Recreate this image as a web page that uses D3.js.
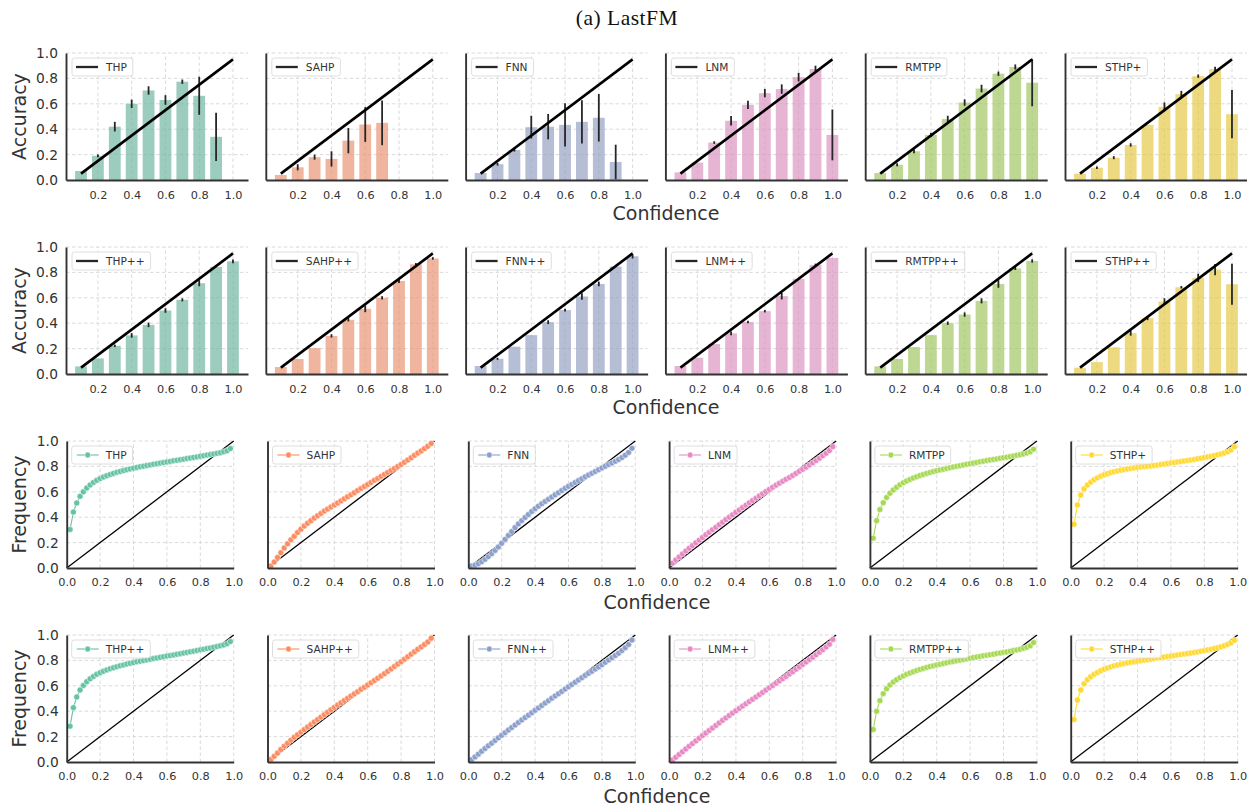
<!DOCTYPE html>
<html>
<head>
<meta charset="utf-8">
<script src="https://cdn.jsdelivr.net/npm/d3@7"></script>
<style>
  body { margin: 0; background: #fff; }
  svg { display: block; font-family: "DejaVu Sans", sans-serif; }
</style>
</head>
<body>
<div id="chart"></div>
<script>
const COLORS = ["#66c2a5", "#fc8d62", "#8da0cb", "#e78ac3", "#a6d854", "#ffd92f"];
const modelsBase = ["THP", "SAHP", "FNN", "LNM", "RMTPP", "STHP+"];
const modelsPlus = ["THP++", "SAHP++", "FNN++", "LNM++", "RMTPP++", "STHP++"];

const binCenters = [0.1, 0.2, 0.3, 0.4, 0.5, 0.6, 0.7, 0.8, 0.9, 1.0];
const barTicks = [0.2, 0.4, 0.6, 0.8, 1.0];
const curveTicks = [0.0, 0.2, 0.4, 0.6, 0.8, 1.0];
const yTicks = [0.0, 0.2, 0.4, 0.6, 0.8, 1.0];

// accuracy per confidence bin (row 1: base models)
const accTHP   = [0.071, 0.19, 0.42, 0.60, 0.705, 0.63, 0.774, 0.663, 0.34, 0];
const errTHP   = [0, 0.01, 0.038, 0.033, 0.033, 0.038, 0.017, 0.15, 0.19, 0];
const accSAHP  = [0.04, 0.10, 0.18, 0.166, 0.31, 0.437, 0.45, 0, 0, 0];
const errSAHP  = [0, 0.024, 0.02, 0.06, 0.1, 0.137, 0.176, 0, 0, 0];
const accFNN   = [0.055, 0.124, 0.237, 0.416, 0.42, 0.434, 0.458, 0.49, 0.142, 0];
const errFNN   = [0, 0.01, 0.013, 0.09, 0.1, 0.17, 0.17, 0.187, 0.136, 0];
const accLNM   = [0.06, 0.137, 0.295, 0.466, 0.592, 0.684, 0.716, 0.81, 0.874, 0.355];
const errLNM   = [0, 0, 0.01, 0.037, 0.033, 0.033, 0.037, 0.034, 0.026, 0.2];
const accRMTPP = [0.055, 0.12, 0.226, 0.355, 0.48, 0.61, 0.72, 0.837, 0.89, 0.766];
const errRMTPP = [0, 0.012, 0.015, 0.017, 0.026, 0.025, 0.03, 0.017, 0.02, 0.185];
const accSTHP  = [0.05, 0.097, 0.176, 0.276, 0.434, 0.576, 0.676, 0.818, 0.874, 0.518];
const errSTHP  = [0, 0.01, 0.012, 0.013, 0, 0.035, 0.026, 0.013, 0.017, 0.19];

// row 2: "++" models
const accTHPpp   = [0.06, 0.123, 0.222, 0.304, 0.387, 0.5, 0.584, 0.715, 0.843, 0.887];
const errTHPpp   = [0, 0, 0.01, 0.018, 0.018, 0.018, 0.012, 0.024, 0, 0.014];
const accSAHPpp  = [0.055, 0.118, 0.204, 0.30, 0.427, 0.513, 0.60, 0.733, 0.864, 0.91];
const errSAHPpp  = [0, 0, 0, 0.013, 0.013, 0.026, 0.013, 0.017, 0.01, 0.01];
const accFNNpp   = [0.063, 0.12, 0.215, 0.306, 0.408, 0.503, 0.61, 0.709, 0.846, 0.927];
const errFNNpp   = [0, 0.008, 0, 0, 0.015, 0.01, 0.026, 0.018, 0, 0.017];
const accLNMpp   = [0.063, 0.128, 0.236, 0.32, 0.41, 0.495, 0.613, 0.749, 0.859, 0.914];
const errLNMpp   = [0, 0, 0, 0.015, 0.01, 0.01, 0.026, 0, 0.01, 0];
const accRMTPPpp = [0.06, 0.118, 0.212, 0.306, 0.40, 0.468, 0.576, 0.709, 0.832, 0.89];
const errRMTPPpp = [0, 0, 0, 0, 0.013, 0.017, 0.02, 0.03, 0.013, 0.013];
const accSTHPpp  = [0.05, 0.094, 0.21, 0.322, 0.44, 0.57, 0.683, 0.757, 0.822, 0.707];
const errSTHPpp  = [0, 0, 0, 0.02, 0.016, 0.026, 0.01, 0.033, 0.045, 0.162];

// rows 3/4: cumulative frequency vs confidence
const confGrid = [0.02, 0.04, 0.06, 0.08, 0.10, 0.12, 0.14, 0.16, 0.18, 0.20,
  0.22, 0.24, 0.26, 0.28, 0.30, 0.32, 0.34, 0.36, 0.38, 0.40,
  0.42, 0.44, 0.46, 0.48, 0.50, 0.52, 0.54, 0.56, 0.58, 0.60,
  0.62, 0.64, 0.66, 0.68, 0.70, 0.72, 0.74, 0.76, 0.78, 0.80,
  0.82, 0.84, 0.86, 0.88, 0.90, 0.92, 0.94, 0.96, 0.98];

const freqTHP = [.303,.440,.512,.564,.600,.630,.654,.674,.690,.704,
  .716,.727,.736,.745,.753,.760,.767,.774,.780,.786,
  .792,.797,.802,.807,.812,.817,.821,.826,.830,.835,
  .839,.844,.848,.853,.857,.862,.866,.871,.875,.880,
  .884,.889,.893,.898,.903,.908,.915,.924,.940];
const freqSAHP = [.016,.047,.083,.120,.157,.190,.222,.250,.280,.305,
  .330,.352,.373,.394,.412,.430,.448,.464,.480,.496,
  .512,.528,.545,.561,.577,.593,.610,.626,.642,.658,
  .674,.690,.705,.721,.737,.752,.768,.784,.800,.815,
  .832,.850,.868,.887,.905,.922,.940,.958,.980];
const freqFNN = [.016,.023,.034,.050,.068,.090,.113,.138,.165,.195,
  .225,.256,.287,.318,.347,.373,.398,.422,.445,.467,
  .487,.506,.524,.542,.559,.576,.593,.610,.627,.643,
  .658,.673,.688,.703,.718,.732,.746,.760,.774,.788,
  .801,.814,.827,.840,.854,.870,.888,.910,.942];
const freqLNM = [.038,.063,.087,.110,.133,.155,.177,.198,.219,.240,
  .261,.281,.301,.321,.341,.361,.381,.400,.419,.438,
  .457,.476,.495,.513,.531,.549,.567,.585,.602,.619,
  .636,.652,.668,.683,.698,.713,.729,.745,.761,.777,
  .794,.811,.828,.846,.864,.883,.903,.925,.955];
const freqRMTPP = [.235,.373,.460,.514,.556,.588,.614,.636,.655,.671,
  .685,.697,.708,.718,.728,.737,.745,.752,.759,.766,
  .772,.778,.784,.790,.796,.801,.806,.811,.816,.821,
  .826,.831,.836,.841,.846,.851,.855,.859,.864,.868,
  .872,.877,.882,.887,.892,.898,.905,.915,.935];
const freqSTHP = [.345,.496,.574,.624,.653,.676,.695,.710,.723,.734,
  .743,.751,.758,.764,.770,.775,.780,.784,.788,.792,
  .795,.798,.801,.804,.807,.810,.814,.818,.822,.826,
  .830,.834,.838,.842,.846,.850,.855,.860,.865,.870,
  .875,.880,.886,.892,.898,.905,.915,.930,.955];

const freqTHPpp = [.282,.428,.512,.567,.603,.632,.655,.674,.690,.703,
  .715,.725,.734,.742,.750,.757,.764,.771,.777,.783,
  .789,.794,.799,.804,.809,.814,.819,.824,.829,.834,
  .838,.843,.848,.853,.858,.863,.868,.873,.878,.883,
  .888,.893,.898,.903,.909,.915,.922,.932,.948];
const freqSAHPpp = [.020,.045,.070,.098,.125,.148,.172,.195,.215,.235,
  .255,.275,.295,.315,.334,.353,.372,.392,.411,.430,
  .448,.466,.484,.502,.520,.537,.554,.572,.589,.606,
  .624,.642,.660,.677,.695,.714,.733,.752,.771,.790,
  .810,.829,.849,.868,.888,.906,.925,.945,.975];
const freqFNNpp = [.018,.040,.062,.084,.106,.127,.148,.169,.190,.210,
  .231,.251,.271,.291,.311,.331,.350,.369,.388,.407,
  .426,.445,.464,.483,.502,.520,.538,.556,.574,.592,
  .610,.628,.646,.664,.682,.698,.715,.732,.749,.766,
  .785,.803,.821,.839,.857,.878,.900,.925,.960];
const freqLNMpp = [.015,.037,.059,.081,.103,.124,.145,.166,.187,.208,
  .228,.248,.268,.288,.308,.328,.347,.366,.385,.404,
  .422,.440,.458,.476,.494,.512,.530,.548,.566,.584,
  .602,.620,.638,.656,.674,.692,.711,.730,.749,.768,
  .787,.806,.825,.844,.864,.884,.905,.928,.965];
const freqRMTPPpp = [.256,.400,.483,.538,.577,.606,.630,.648,.664,.678,
  .690,.701,.711,.720,.729,.737,.744,.751,.757,.763,
  .769,.775,.781,.787,.792,.797,.802,.807,.812,.817,
  .822,.827,.831,.836,.840,.845,.849,.854,.858,.863,
  .867,.872,.877,.882,.888,.895,.903,.915,.940];
const freqSTHPpp = [.334,.488,.567,.616,.648,.671,.690,.705,.718,.730,
  .740,.749,.757,.764,.770,.776,.781,.786,.790,.794,
  .798,.802,.806,.810,.814,.818,.822,.826,.830,.834,
  .838,.842,.846,.850,.854,.858,.862,.867,.872,.877,
  .882,.888,.894,.900,.907,.915,.925,.938,.958];

const accRows = [
  [accTHP, accSAHP, accFNN, accLNM, accRMTPP, accSTHP],
  [accTHPpp, accSAHPpp, accFNNpp, accLNMpp, accRMTPPpp, accSTHPpp],
];
const errRows = [
  [errTHP, errSAHP, errFNN, errLNM, errRMTPP, errSTHP],
  [errTHPpp, errSAHPpp, errFNNpp, errLNMpp, errRMTPPpp, errSTHPpp],
];
const freqRows = [
  [freqTHP, freqSAHP, freqFNN, freqLNM, freqRMTPP, freqSTHP],
  [freqTHPpp, freqSAHPpp, freqFNNpp, freqLNMpp, freqRMTPPpp, freqSTHPpp],
];

const W = 1247, H = 806;
const INK = "#333";

// seaborn barplot softens the palette (saturation 0.75)
function barColor(c) {
  const h = d3.hsl(c);
  h.s *= 0.75;
  return h.formatHex();
}

const svg = d3.select("#chart").append("svg")
  .attr("width", W).attr("height", H)
  .attr("viewBox", `0 0 ${W} ${H}`);
svg.append("rect").attr("width", W).attr("height", H).attr("fill", "#fff");

svg.append("text")
  .attr("x", 627).attr("y", 25)
  .attr("text-anchor", "middle")
  .style("font-family", "'Liberation Serif', 'DejaVu Serif', serif")
  .style("font-size", "21.5px")
  .style("letter-spacing", "0.5px")
  .style("fill", "#111")
  .text("(a) LastFM");

// Shared frame: dashed grid, spines, tick labels
function drawGrid(g, x, y, xTicks) {
  const [x0, x1] = x.range();
  g.append("g").selectAll("line")
    .data(xTicks.filter((d) => d > 0.001))
    .join("line")
    .attr("x1", (d) => x(d)).attr("x2", (d) => x(d))
    .attr("y1", y(0)).attr("y2", y(1))
    .attr("stroke", "#d6d6d6").attr("stroke-width", 0.9)
    .attr("stroke-dasharray", "3.5,2.5");
  g.append("g").selectAll("line")
    .data(yTicks.filter((d) => d > 0.001))
    .join("line")
    .attr("x1", x0).attr("x2", x1)
    .attr("y1", (d) => y(d)).attr("y2", (d) => y(d))
    .attr("stroke", "#d6d6d6").attr("stroke-width", 0.9)
    .attr("stroke-dasharray", "3.5,2.5");
}

function drawAxes(g, x, y, xTicks, xPad, showY) {
  const xa = g.append("g")
    .attr("transform", `translate(0,${y(0)})`)
    .call(d3.axisBottom(x).tickValues(xTicks).tickSize(0).tickSizeOuter(0)
      .tickPadding(xPad).tickFormat(d3.format(".1f")));
  xa.select(".domain").attr("stroke", INK).attr("stroke-width", 1.9);
  xa.selectAll("text")
    .style("font-family", "'DejaVu Sans', sans-serif")
    .style("font-size", "11.3px")
    .style("fill", INK);

  const ya = g.append("g")
    .attr("transform", `translate(${x.range()[0]},0)`)
    .call(d3.axisLeft(y).tickValues(showY ? yTicks : []).tickSize(0).tickSizeOuter(0)
      .tickPadding(8).tickFormat(d3.format(".1f")));
  ya.select(".domain").attr("stroke", INK).attr("stroke-width", 1.9);
  ya.selectAll("text")
    .style("font-family", "'DejaVu Sans', sans-serif")
    .style("font-size", "13.8px")
    .style("fill", INK);
}

function drawLegend(g, left, top, label, color, curve) {
  const lg = g.append("g").attr("transform", `translate(${left},${top})`);
  const box = lg.append("rect");
  const txt = lg.append("text")
    .attr("x", 34).attr("y", 9).attr("dy", "0.36em")
    .style("font-family", "'DejaVu Sans', sans-serif")
    .style("font-size", "10.6px")
    .style("fill", INK)
    .text(label);
  const tw = txt.node().getComputedTextLength();
  box.attr("width", 34 + tw + 6).attr("height", 18).attr("rx", 2.5)
    .attr("fill", "#fff").attr("fill-opacity", 0.85)
    .attr("stroke", "#d6d6d6").attr("stroke-width", 0.8);
  if (curve) {
    lg.append("line").attr("x1", 5).attr("x2", 27).attr("y1", 9).attr("y2", 9)
      .attr("stroke", color).attr("stroke-width", 1.1);
    lg.append("circle").attr("cx", 16).attr("cy", 9).attr("r", 2.9)
      .attr("fill", color).attr("stroke", "#fff").attr("stroke-width", 0.5);
  } else {
    lg.append("line").attr("x1", 4).attr("x2", 26).attr("y1", 9).attr("y2", 9)
      .attr("stroke", "#262626").attr("stroke-width", 2.3);
  }
}

const BAR_ROWS = [{ top: 53, bottom: 180 }, { top: 247, bottom: 374 }];
const CURVE_ROWS = [{ top: 441, bottom: 568 }, { top: 635, bottom: 762 }];

// Rows 1 & 2: reliability bars
BAR_ROWS.forEach((r, ri) => {
  const names = ri === 0 ? modelsBase : modelsPlus;
  names.forEach((name, ci) => {
    const left = 66 + ci * 199.8;
    const x = d3.scaleLinear().domain([0.011, 1.089]).range([left, left + 182]);
    const y = d3.scaleLinear().domain([0, 1]).range([r.bottom, r.top]);
    const g = svg.append("g");
    const acc = accRows[ri][ci];
    const err = errRows[ri][ci];
    const pts = binCenters.map((c, i) => ({ c, v: acc[i], e: err[i] }));

    drawGrid(g, x, y, barTicks);

    g.append("g").selectAll("rect")
      .data(pts.filter((d) => d.v > 0))
      .join("rect")
      .attr("x", (d) => x(d.c - 0.035))
      .attr("width", (d) => x(d.c + 0.035) - x(d.c - 0.035))
      .attr("y", (d) => y(d.v))
      .attr("height", (d) => y(0) - y(d.v))
      .attr("fill", barColor(COLORS[ci])).attr("fill-opacity", 0.7);

    g.append("g").selectAll("line")
      .data(pts.filter((d) => d.e > 0))
      .join("line")
      .attr("x1", (d) => x(d.c)).attr("x2", (d) => x(d.c))
      .attr("y1", (d) => y(Math.max(0, d.v - d.e)))
      .attr("y2", (d) => y(Math.min(1, d.v + d.e)))
      .attr("stroke", "#262626").attr("stroke-width", 1.8);

    g.append("line")
      .attr("x1", x(0.1)).attr("y1", y(0.05))
      .attr("x2", x(1.0)).attr("y2", y(0.95))
      .attr("stroke", "#000").attr("stroke-width", 2.6);

    drawAxes(g, x, y, barTicks, 11, ci === 0);
    drawLegend(g, left + 6, r.top + 5, name, COLORS[ci], false);
  });

  svg.append("text")
    .attr("x", 666).attr("y", r.bottom + 40)
    .attr("text-anchor", "middle")
    .style("font-size", "19px").style("fill", INK)
    .text("Confidence");
  svg.append("text")
    .attr("transform", `translate(26,${(r.top + r.bottom) / 2}) rotate(-90)`)
    .attr("text-anchor", "middle")
    .style("font-size", "19px").style("fill", INK)
    .text("Accuracy");
});

// Rows 3 & 4: cumulative frequency curves
CURVE_ROWS.forEach((r, ri) => {
  const names = ri === 0 ? modelsBase : modelsPlus;
  names.forEach((name, ci) => {
    const left = 66.7 + ci * 200.8;
    const x = d3.scaleLinear().domain([0, 1]).range([left, left + 167]);
    const y = d3.scaleLinear().domain([0, 1]).range([r.bottom, r.top]);
    const g = svg.append("g");
    const pts = confGrid.map((c, i) => ({ c, v: freqRows[ri][ci][i] }));

    drawGrid(g, x, y, curveTicks);

    g.append("line")
      .attr("x1", x(0)).attr("y1", y(0))
      .attr("x2", x(1)).attr("y2", y(1))
      .attr("stroke", "#000").attr("stroke-width", 1.3);

    g.append("path")
      .datum(pts)
      .attr("fill", "none")
      .attr("stroke", COLORS[ci]).attr("stroke-width", 1.1)
      .attr("d", d3.line().x((d) => x(d.c)).y((d) => y(d.v)));

    g.append("g").selectAll("circle")
      .data(pts)
      .join("circle")
      .attr("cx", (d) => x(d.c)).attr("cy", (d) => y(d.v))
      .attr("r", 3.0)
      .attr("fill", COLORS[ci]).attr("stroke", "#fff").attr("stroke-width", 0.5);

    drawAxes(g, x, y, curveTicks, 9.5, ci === 0);
    drawLegend(g, left + 5, r.top + 5, name, COLORS[ci], true);
  });

  svg.append("text")
    .attr("x", 657).attr("y", r.bottom + 40.5)
    .attr("text-anchor", "middle")
    .style("font-size", "19px").style("fill", INK)
    .text("Confidence");
  svg.append("text")
    .attr("transform", `translate(26,${(r.top + r.bottom) / 2}) rotate(-90)`)
    .attr("text-anchor", "middle")
    .style("font-size", "19px").style("fill", INK)
    .text("Frequency");
});
</script>
</body>
</html>
